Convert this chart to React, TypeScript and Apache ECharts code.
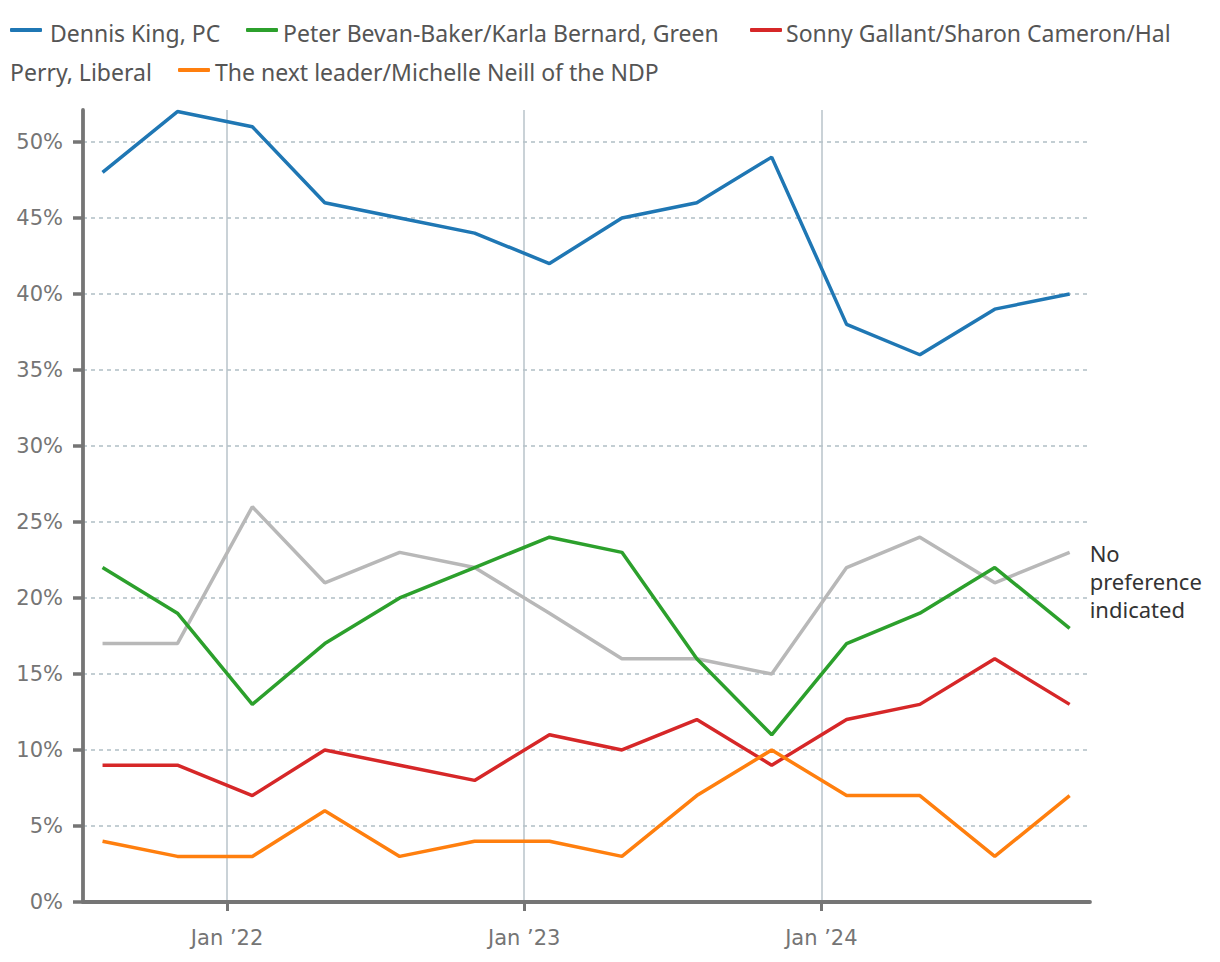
import React, { useEffect, useRef } from "react";
import * as echarts from "echarts";

// ---- data ----
const pollDates = [
  "2021-08-01", "2021-11-01", "2022-02-01", "2022-05-01", "2022-08-01",
  "2022-11-01", "2023-02-01", "2023-05-01", "2023-08-01", "2023-11-01",
  "2024-02-01", "2024-05-01", "2024-08-01", "2024-11-01",
];
const pcKing = [48, 52, 51, 46, 45, 44, 42, 45, 46, 49, 38, 36, 39, 40];
const greenBevanBaker = [22, 19, 13, 17, 20, 22, 24, 23, 16, 11, 17, 19, 22, 18];
const liberalGallant = [9, 9, 7, 10, 9, 8, 11, 10, 12, 9, 12, 13, 16, 13];
const ndpNeill = [4, 3, 3, 6, 3, 4, 4, 3, 7, 10, 7, 7, 3, 7];
const noPreference = [17, 17, 26, 21, 23, 22, 19, 16, 16, 15, 22, 24, 21, 23];

const seriesNames = [
  "Dennis King, PC",
  "Peter Bevan-Baker/Karla Bernard, Green",
  "Sonny Gallant/Sharon Cameron/Hal Perry, Liberal",
  "The next leader/Michelle Neill of the NDP",
];
const noPrefLabel = "No preference indicated";
const yTickValues = [0, 5, 10, 15, 20, 25, 30, 35, 40, 45, 50];
const xTickDates = ["2022-01-01", "2023-01-01", "2024-01-01"];
const xRange = ["2021-07-08", "2024-11-26"];

const COLORS = ["#1f77b4", "#2ca02c", "#d62728", "#ff7f0e"];
const GREY = "#b8b8b8";
const FONT = "'Noto Sans', 'Open Sans', sans-serif";
const TICK_FONT = "'DejaVu Sans', 'Noto Sans', sans-serif";

function toTime(s: string): number {
  const [y, m, d] = s.split("-").map(Number);
  return new Date(y, m - 1, d).getTime();
}

function pairs(values: number[]) {
  return pollDates.map((d, i) => [toTime(d), values[i]]);
}

export default function App() {
  const ref = useRef<HTMLDivElement>(null);

  useEffect(() => {
    if (!ref.current) return;
    const chart = echarts.init(ref.current, undefined, { renderer: "svg" });

    const legendText = (text: string, x: number, y: number) => ({
      type: "text",
      x,
      y,
      style: {
        text,
        fill: "#555",
        font: `23px ${FONT}`,
        verticalAlign: "middle",
        align: "left",
      },
    });
    const legendIcon = (color: string, x: number, y: number) => ({
      type: "rect",
      shape: { x, y: y - 2, width: 32, height: 4, r: 1 },
      style: { fill: color },
    });

    const xTicks = xTickDates.map(toTime);

    const option: any = {
      animation: false,
      backgroundColor: "#fff",
      grid: { left: 83, right: 130, top: 110, bottom: 60, containLabel: false },
      graphic: [
        legendIcon(COLORS[0], 10, 30),
        legendText(seriesNames[0], 50, 33),
        legendIcon(COLORS[1], 246, 30),
        legendText(seriesNames[1], 283, 33),
        legendIcon(COLORS[2], 750, 30),
        legendText("Sonny Gallant/Sharon Cameron/Hal", 786, 33),
        legendText("Perry, Liberal", 10, 72),
        legendIcon(COLORS[3], 178, 70),
        legendText(seriesNames[3], 215, 72),
      ],
      xAxis: {
        type: "value",
        min: toTime(xRange[0]),
        max: toTime(xRange[1]),
        axisLine: { show: true, lineStyle: { color: "#757575", width: 3.8 } },
        axisTick: {
          show: true,
          length: 9,
          lineStyle: { color: "#757575", width: 3 },
          customValues: xTicks,
        },
        axisLabel: {
          customValues: xTicks,
          margin: 25,
          color: "#757575",
          fontSize: 21,
          fontFamily: TICK_FONT,
          formatter: (v: number) =>
            "Jan \u2019" + String(new Date(v).getFullYear()).slice(2),
        },
        splitLine: {
          show: true,
          lineStyle: { color: "#b8c3ca", width: 1.5, type: "solid" },
        },
      },
      yAxis: {
        type: "value",
        min: 0,
        max: 52.1,
        interval: 5,
        axisLine: { show: true, lineStyle: { color: "#757575", width: 3.8 } },
        axisTick: {
          show: true,
          length: 10,
          lineStyle: { color: "#757575", width: 3.5 },
          customValues: yTickValues,
        },
        axisLabel: {
          customValues: yTickValues,
          margin: 20,
          color: "#757575",
          fontSize: 21,
          fontFamily: TICK_FONT,
          formatter: (v: number) => `${v}%`,
        },
        splitLine: {
          show: true,
          lineStyle: { color: "#b0bec5", width: 1.5, type: [4, 4] },
        },
      },
      series: [
        {
          name: noPrefLabel,
          type: "line",
          data: pairs(noPreference),
          symbol: "none",
          lineStyle: { color: GREY, width: 3.5 },
          itemStyle: { color: GREY },
          z: 2,
          endLabel: {
            show: true,
            formatter: () => "No\npreference\nindicated",
            color: "#333",
            fontSize: 22,
            fontFamily: FONT,
            lineHeight: 28,
            distance: 20,
            offset: [0, 29],
          },
        },
        ...[pcKing, greenBevanBaker, liberalGallant, ndpNeill].map((vals, i) => ({
          name: seriesNames[i],
          type: "line",
          data: pairs(vals),
          symbol: "none",
          lineStyle: { color: COLORS[i], width: 3.5 },
          itemStyle: { color: COLORS[i] },
          z: 3,
        })),
      ],
    };

    chart.setOption(option);
    return () => chart.dispose();
  }, []);

  return (
    <div
      ref={ref}
      style={{ position: "absolute", left: 0, top: 0, width: 1220, height: 962 }}
    />
  );
}
